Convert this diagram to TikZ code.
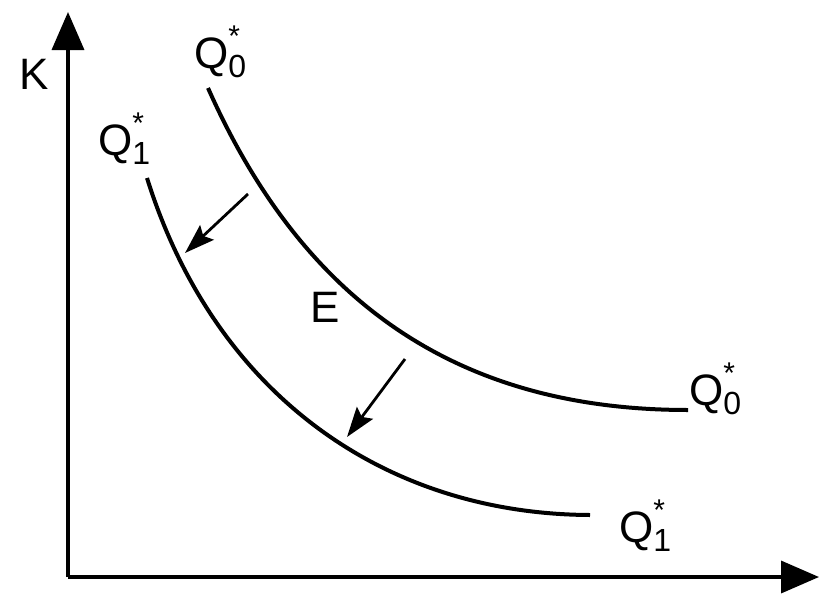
\documentclass[tikz,border=0pt]{standalone}
\usepackage{fontspec}
\setmainfont{Liberation Sans}
\usetikzlibrary{arrows.meta}
\newcommand\qlab[1]{Q\makebox[0pt][l]{\raisebox{0.5em}{\fontsize{30}{30}\selectfont *}}\raisebox{-0.22em}{\fontsize{32}{32}\selectfont #1}}
\tikzset{
  axis/.style={line width=3.6pt, -{Triangle[length=38pt,width=32pt]}},
  curve/.style={line width=4pt},
  shift arrow/.style={line width=2.8pt, -{Stealth[length=30pt,width=20pt,inset=5pt]}},
  lab/.style={font=\fontsize{44}{44}\selectfont, inner sep=0pt}
}
\begin{document}
\begin{tikzpicture}[x=1pt,y=-1pt]
\useasboundingbox (0,0) rectangle (821,597);
\coordinate (O) at (68,577);
\coordinate (ytop) at (68,12);
\coordinate (xend) at (819,577);
\draw[axis] (O) -- (ytop);
\draw[axis] (O) -- (xend);
\node[lab] (K) at (34,74) {K};
% curves
\coordinate (a0) at (208,88);
\coordinate (b0) at (688,410);
\coordinate (a1) at (147,178);
\coordinate (b1) at (590,515);
\draw[curve] (a0) .. controls (300,295) and (450,410) .. (b0);
\draw[curve] (a1) .. controls (215,395) and (385,514) .. (b1);
% labels
\node[lab, anchor=base west] (q0t) at (194,68) {\qlab{0}};
\node[lab, anchor=base west] (q1t) at (98,155) {\qlab{1}};
\node[lab, anchor=base west] (q0r) at (689,405) {\qlab{0}};
\node[lab, anchor=base west] (q1r) at (619,542) {\qlab{1}};
\node[lab] (E) at (325,307) {E};
% shift arrows
\coordinate (s1) at (248,194);
\coordinate (t1) at (185,253);
\coordinate (s2) at (405,359);
\coordinate (t2) at (347,437);
\draw[shift arrow] (s1) -- (t1);
\draw[shift arrow] (s2) -- (t2);
\end{tikzpicture}
\end{document}
